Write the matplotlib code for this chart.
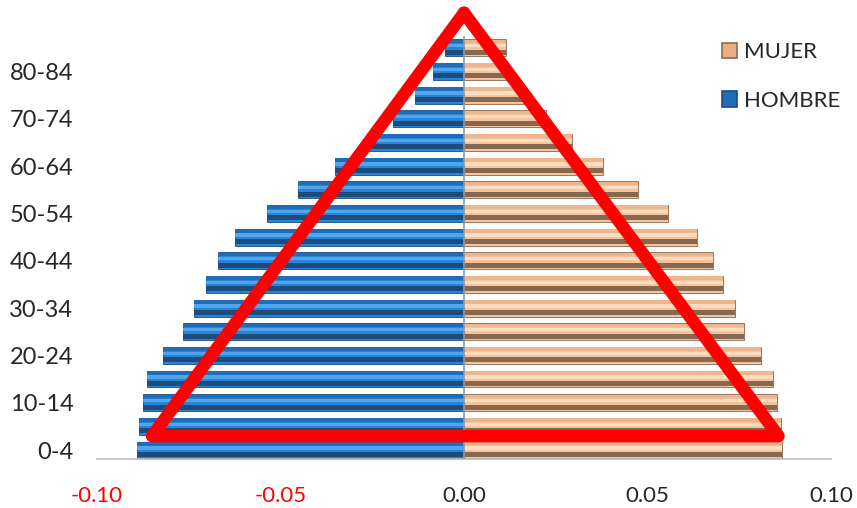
import numpy as np
import matplotlib
matplotlib.use("Agg")
import matplotlib.pyplot as plt
from matplotlib.patches import Rectangle

# grupos de edad (de abajo hacia arriba)
grupos = ["0-4", "5-9", "10-14", "15-19", "20-24", "25-29", "30-34",
          "35-39", "40-44", "45-49", "50-54", "55-59", "60-64", "65-69",
          "70-74", "75-79", "80-84", "85+"]
# proporcion de poblacion por sexo
hombre = [0.0891, 0.0886, 0.0875, 0.0864, 0.0820, 0.0766, 0.0736, 0.0703,
          0.0670, 0.0624, 0.0537, 0.0452, 0.0351, 0.0265, 0.0193, 0.0134,
          0.0084, 0.0052]
mujer = [0.0866, 0.0864, 0.0853, 0.0842, 0.0809, 0.0763, 0.0738, 0.0706,
         0.0678, 0.0635, 0.0556, 0.0474, 0.0379, 0.0294, 0.0223, 0.0165,
         0.0115, 0.0114]
# etiquetas del eje y (una de cada dos)
etiquetas_y = ["0-4", "10-14", "20-24", "30-34", "40-44", "50-54", "60-64",
               "70-74", "80-84"]
ticks_x = [-0.10, -0.05, 0.00, 0.05, 0.10]
# triangulo rojo dibujado encima
tri_x = [0.0, -0.0850, 0.0857, 0.0]
tri_y = [18.48, 0.59, 0.59, 18.48]

plt.rcParams["font.family"] = ["Lato", "DejaVu Sans"]

fig = plt.figure(figsize=(8.57, 5.08), dpi=100)
ax = fig.add_axes([97 / 857, 1 - 459.3 / 508, 734 / 857, 423.3 / 508])

y = np.arange(len(grupos))
h = 0.71


def bevel(ax, vals, base, light, dark, top):
    # barra con efecto de relieve hecha con franjas
    ax.barh(y, vals, height=h, color=base, edgecolor=dark, linewidth=0.6,
            zorder=2)
    ax.barh(y + h * 0.38, vals, height=h * 0.22, color=top, linewidth=0,
            zorder=3)
    ax.barh(y + h * 0.12, vals, height=h * 0.2, color=light, linewidth=0,
            zorder=3)
    ax.barh(y - h * 0.26, vals, height=h * 0.3, color=dark, linewidth=0,
            zorder=3)


neg = [-v for v in hombre]
bevel(ax, neg, "#2A83D3", "#4FA6EC", "#1B4C7C", "#1F6DB6")
bevel(ax, mujer, "#F6C49C", "#FCDDC2", "#86674F", "#EDB68C")

ax.axvline(0, color="#8C9AA8", lw=1.2, zorder=4)

ax.set_xlim(-0.10, 0.10)
ax.set_ylim(-0.39, 17.5)

ax.set_xticks(ticks_x)
ax.set_xticklabels(["%.2f" % t for t in ticks_x], fontsize=16)
for lab, t in zip(ax.get_xticklabels(), ticks_x):
    lab.set_color("#FF0000" if t < 0 else "#262626")
ax.set_yticks([grupos.index(g) for g in etiquetas_y])
ax.set_yticklabels(etiquetas_y, fontsize=17, color="#262626")
ax.tick_params(axis="x", length=0, pad=19)
ax.tick_params(axis="y", length=0, pad=17)

for s in ["top", "right", "left"]:
    ax.spines[s].set_visible(False)
ax.spines["bottom"].set_color("#BFBFBF")
ax.spines["bottom"].set_linewidth(1.2)

ax.plot(tri_x, tri_y, color="#FF0000", lw=9, solid_joinstyle="round",
        solid_capstyle="round", clip_on=False, zorder=6)

handles = [Rectangle((0, 0), 1, 1, facecolor="#E8AE84", edgecolor="#8F6C52",
                     lw=1.2),
           Rectangle((0, 0), 1, 1, facecolor="#1F6DB6", edgecolor="#1B4C7C",
                     lw=1.2)]
fig.legend(handles, ["MUJER", "HOMBRE"], loc="upper left",
           bbox_to_anchor=(722 / 857, 1 - 42 / 508), frameon=False,
           fontsize=16, labelspacing=1.3, handlelength=0.68,
           handleheight=0.68, handletextpad=0.3, borderpad=0,
           borderaxespad=0, labelcolor="#262626")

fig.savefig("out.png", dpi=100)
